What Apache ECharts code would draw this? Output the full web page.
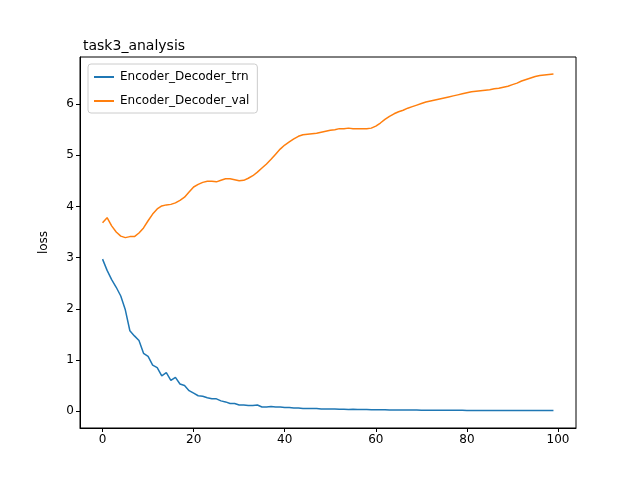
<!DOCTYPE html>
<html>
<head>
<meta charset="utf-8">
<script src="https://cdn.jsdelivr.net/npm/echarts@6/dist/echarts.min.js"></script>
<style>html,body{margin:0;padding:0;background:#fff}#main{width:640px;height:480px}</style>
</head>
<body>
<div id="main"></div>
<script>
// loss per epoch
var trnLoss = [2.97, 2.75, 2.57, 2.42, 2.25, 1.98, 1.57, 1.47, 1.38, 1.13,
    1.07, 0.90, 0.85, 0.69, 0.75, 0.60, 0.66, 0.53, 0.50, 0.40,
    0.35, 0.30, 0.29, 0.26, 0.24, 0.24, 0.20, 0.18, 0.15, 0.15,
    0.12, 0.12, 0.11, 0.11, 0.12, 0.08, 0.08, 0.09, 0.08, 0.08,
    0.07, 0.07, 0.06, 0.06, 0.05, 0.05, 0.05, 0.05, 0.04, 0.04,
    0.04, 0.04, 0.035, 0.035, 0.03, 0.035, 0.03, 0.03, 0.03, 0.025,
    0.025, 0.025, 0.025, 0.02, 0.02, 0.02, 0.02, 0.02, 0.02, 0.02,
    0.015, 0.015, 0.015, 0.015, 0.015, 0.015, 0.015, 0.015, 0.015, 0.015,
    0.012, 0.012, 0.012, 0.012, 0.012, 0.012, 0.012, 0.012, 0.01, 0.01,
    0.01, 0.01, 0.01, 0.01, 0.01, 0.01, 0.01, 0.01, 0.01, 0.01];
var valLoss = [3.68, 3.78, 3.62, 3.50, 3.42, 3.39, 3.41, 3.41, 3.48, 3.58,
    3.72, 3.85, 3.95, 4.01, 4.03, 4.04, 4.07, 4.12, 4.18, 4.28,
    4.38, 4.43, 4.47, 4.49, 4.49, 4.48, 4.51, 4.54, 4.54, 4.52,
    4.50, 4.51, 4.55, 4.60, 4.67, 4.75, 4.83, 4.92, 5.02, 5.12,
    5.20, 5.26, 5.32, 5.37, 5.40, 5.41, 5.42, 5.43, 5.45, 5.47,
    5.49, 5.50, 5.52, 5.52, 5.53, 5.52, 5.52, 5.52, 5.52, 5.53,
    5.57, 5.63, 5.70, 5.76, 5.81, 5.85, 5.88, 5.92, 5.95, 5.98,
    6.01, 6.04, 6.06, 6.08, 6.10, 6.12, 6.14, 6.16, 6.18, 6.20,
    6.22, 6.24, 6.25, 6.26, 6.27, 6.28, 6.30, 6.31, 6.33, 6.35,
    6.38, 6.41, 6.45, 6.48, 6.51, 6.54, 6.56, 6.57, 6.58, 6.59];
var xTicks = [0, 20, 40, 60, 80, 100];
var yTicks = [0, 1, 2, 3, 4, 5, 6];

function pairs(arr) {
    return arr.map(function (v, i) { return [i, v]; });
}

var myChart = echarts.init(document.getElementById("main"));
var labelStyle = {color: '#000', fontSize: 12, fontFamily: 'DejaVu Sans', margin: 6};
var tickStyle = {show: true, length: 4, lineStyle: {color: '#000'}};
var option = {
    animation: false,
    title: {
        text: 'task3_analysis', left: 78, top: 34,
        textStyle: {fontSize: 14, fontWeight: 'normal', color: '#000', fontFamily: 'DejaVu Sans'}
    },
    grid: {left: 80, right: 64, top: 57, bottom: 52, show: true, borderColor: '#000', borderWidth: 1},
    legend: {
        orient: 'vertical', left: 88, top: 64,
        data: ['Encoder_Decoder_trn', 'Encoder_Decoder_val'],
        icon: 'path://M0,0 L20,0 L20,2 L0,2 Z', itemWidth: 22, itemHeight: 2, itemGap: 12,
        padding: [7, 8, 6, 6],
        borderColor: '#ccc', borderWidth: 1, borderRadius: 3,
        textStyle: {fontSize: 12, color: '#000', fontFamily: 'DejaVu Sans'}
    },
    xAxis: {
        type: 'value', min: -4.95, max: 103.95,
        axisLine: {onZero: false, lineStyle: {color: '#000'}},
        axisTick: Object.assign({customValues: xTicks}, tickStyle),
        axisLabel: Object.assign({customValues: xTicks}, labelStyle),
        splitLine: {show: false}
    },
    yAxis: {
        type: 'value', min: -0.33, max: 6.92,
        name: 'loss', nameLocation: 'middle', nameGap: 30,
        nameTextStyle: {color: '#000', fontSize: 12, fontFamily: 'DejaVu Sans'},
        axisLine: {onZero: false, lineStyle: {color: '#000'}},
        axisTick: Object.assign({customValues: yTicks}, tickStyle),
        axisLabel: Object.assign({customValues: yTicks}, labelStyle),
        splitLine: {show: false}
    },
    series: [
        {name: 'Encoder_Decoder_trn', type: 'line', data: pairs(trnLoss), showSymbol: false,
            lineStyle: {color: '#1f77b4', width: 1.5}, itemStyle: {color: '#1f77b4'}},
        {name: 'Encoder_Decoder_val', type: 'line', data: pairs(valLoss), showSymbol: false,
            lineStyle: {color: '#ff7f0e', width: 1.5}, itemStyle: {color: '#ff7f0e'}}
    ]
};
myChart.setOption(option, true);
</script>
</body>
</html>
